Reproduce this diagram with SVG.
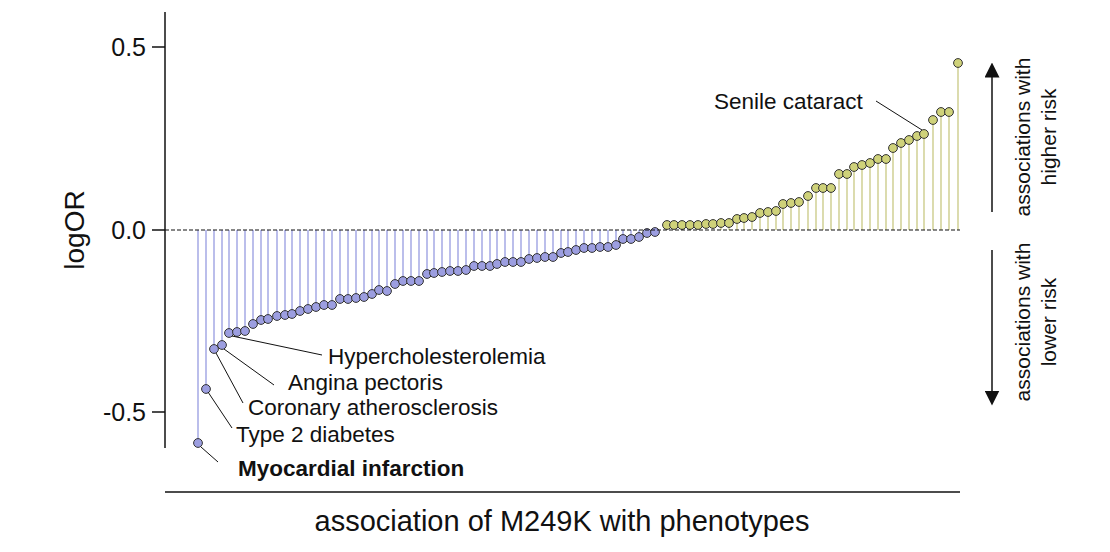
<svg xmlns="http://www.w3.org/2000/svg" width="1110" height="552" viewBox="0 0 1110 552">
<style>
text{font-family:"Liberation Sans",Arial,sans-serif;fill:#111}
.b line{stroke:#aaaee6;stroke-width:1.6}
.y line{stroke:#d3d39a;stroke-width:1.6}
.b circle{fill:#9c9ee0;stroke:#333;stroke-width:1}
.y circle{fill:#cfd27a;stroke:#333;stroke-width:1}
.ax{stroke:#111;stroke-width:1.5;fill:none}
.ld{stroke:#111;stroke-width:1;fill:none}
.lb{font-size:22.5px}
.rt{font-size:21px}
</style>
<defs><marker id="ah" markerWidth="10" markerHeight="10" refX="5" refY="5" orient="auto"><path d="M0,0L10,5L0,10z" fill="#111"/></marker></defs>
<g id="axes">
<line class="ax" x1="165" y1="12" x2="165" y2="448"/>
<line class="ax" x1="152" y1="47" x2="165" y2="47"/>
<line class="ax" x1="152" y1="230" x2="165" y2="230"/>
<line class="ax" x1="152" y1="412" x2="165" y2="412"/>
<text x="146" y="56" font-size="25" text-anchor="end">0.5</text>
<text x="146" y="239" font-size="25" text-anchor="end">0.0</text>
<text x="146" y="421" font-size="25" text-anchor="end">-0.5</text>
<text transform="translate(84,230) rotate(-90)" font-size="28" text-anchor="middle">logOR</text>
<line class="ax" x1="165" y1="492" x2="960" y2="492"/>
<text x="562" y="531" font-size="29" text-anchor="middle">association of M249K with phenotypes</text>
</g>
<g id="connectors">
<g class="b">
<line x1="198" y1="230" x2="198" y2="443"/><line x1="206" y1="230" x2="206" y2="389"/><line x1="214" y1="230" x2="214" y2="349"/><line x1="222" y1="230" x2="222" y2="345"/><line x1="229" y1="230" x2="229" y2="333"/><line x1="237" y1="230" x2="237" y2="332"/><line x1="245" y1="230" x2="245" y2="331"/><line x1="253" y1="230" x2="253" y2="324"/><line x1="261" y1="230" x2="261" y2="320"/><line x1="268" y1="230" x2="268" y2="319"/>
</g>
</g>
<g id="lollipops-neg" class="b">
<circle cx="198" cy="443" r="4.4"/><circle cx="206" cy="389" r="4.4"/><circle cx="214" cy="349" r="4.4"/><circle cx="222" cy="345" r="4.4"/><circle cx="229" cy="333" r="4.4"/><circle cx="237" cy="332" r="4.4"/><circle cx="245" cy="331" r="4.4"/><circle cx="253" cy="324" r="4.4"/><circle cx="261" cy="320" r="4.4"/><circle cx="268" cy="319" r="4.4"/>
<line x1="277" y1="230" x2="277" y2="316"/><circle cx="277" cy="316" r="4.4"/>
<line x1="285" y1="230" x2="285" y2="315"/><circle cx="285" cy="315" r="4.4"/>
<line x1="292" y1="230" x2="292" y2="314"/><circle cx="292" cy="314" r="4.4"/>
<line x1="300" y1="230" x2="300" y2="311"/><circle cx="300" cy="311" r="4.4"/>
<line x1="308" y1="230" x2="308" y2="309"/><circle cx="308" cy="309" r="4.4"/>
<line x1="316" y1="230" x2="316" y2="307"/><circle cx="316" cy="307" r="4.4"/>
<line x1="324" y1="230" x2="324" y2="305"/><circle cx="324" cy="305" r="4.4"/>
<line x1="332" y1="230" x2="332" y2="305"/><circle cx="332" cy="305" r="4.4"/>
<line x1="340" y1="230" x2="340" y2="299"/><circle cx="340" cy="299" r="4.4"/>
<line x1="348" y1="230" x2="348" y2="299"/><circle cx="348" cy="299" r="4.4"/>
<line x1="356" y1="230" x2="356" y2="298"/><circle cx="356" cy="298" r="4.4"/>
<line x1="364" y1="230" x2="364" y2="297"/><circle cx="364" cy="297" r="4.4"/>
<line x1="372" y1="230" x2="372" y2="294"/><circle cx="372" cy="294" r="4.4"/>
<line x1="379" y1="230" x2="379" y2="290"/><circle cx="379" cy="290" r="4.4"/>
<line x1="387" y1="230" x2="387" y2="291"/><circle cx="387" cy="291" r="4.4"/>
<line x1="395" y1="230" x2="395" y2="284"/><circle cx="395" cy="284" r="4.4"/>
<line x1="403" y1="230" x2="403" y2="281"/><circle cx="403" cy="281" r="4.4"/>
<line x1="411" y1="230" x2="411" y2="281"/><circle cx="411" cy="281" r="4.4"/>
<line x1="419" y1="230" x2="419" y2="281"/><circle cx="419" cy="281" r="4.4"/>
<line x1="427" y1="230" x2="427" y2="274"/><circle cx="427" cy="274" r="4.4"/>
<line x1="434" y1="230" x2="434" y2="273"/><circle cx="434" cy="273" r="4.4"/>
<line x1="442" y1="230" x2="442" y2="272"/><circle cx="442" cy="272" r="4.4"/>
<line x1="450" y1="230" x2="450" y2="271"/><circle cx="450" cy="271" r="4.4"/>
<line x1="458" y1="230" x2="458" y2="271"/><circle cx="458" cy="271" r="4.4"/>
<line x1="466" y1="230" x2="466" y2="270"/><circle cx="466" cy="270" r="4.4"/>
<line x1="474" y1="230" x2="474" y2="266"/><circle cx="474" cy="266" r="4.4"/>
<line x1="482" y1="230" x2="482" y2="266"/><circle cx="482" cy="266" r="4.4"/>
<line x1="490" y1="230" x2="490" y2="266"/><circle cx="490" cy="266" r="4.4"/>
<line x1="497" y1="230" x2="497" y2="264"/><circle cx="497" cy="264" r="4.4"/>
<line x1="505" y1="230" x2="505" y2="262"/><circle cx="505" cy="262" r="4.4"/>
<line x1="513" y1="230" x2="513" y2="262"/><circle cx="513" cy="262" r="4.4"/>
<line x1="521" y1="230" x2="521" y2="262"/><circle cx="521" cy="262" r="4.4"/>
<line x1="529" y1="230" x2="529" y2="259"/><circle cx="529" cy="259" r="4.4"/>
<line x1="537" y1="230" x2="537" y2="258"/><circle cx="537" cy="258" r="4.4"/>
<line x1="545" y1="230" x2="545" y2="257"/><circle cx="545" cy="257" r="4.4"/>
<line x1="553" y1="230" x2="553" y2="257"/><circle cx="553" cy="257" r="4.4"/>
<line x1="561" y1="230" x2="561" y2="253"/><circle cx="561" cy="253" r="4.4"/>
<line x1="568" y1="230" x2="568" y2="252"/><circle cx="568" cy="252" r="4.4"/>
<line x1="576" y1="230" x2="576" y2="250"/><circle cx="576" cy="250" r="4.4"/>
<line x1="584" y1="230" x2="584" y2="248"/><circle cx="584" cy="248" r="4.4"/>
<line x1="592" y1="230" x2="592" y2="248"/><circle cx="592" cy="248" r="4.4"/>
<line x1="600" y1="230" x2="600" y2="247"/><circle cx="600" cy="247" r="4.4"/>
<line x1="608" y1="230" x2="608" y2="247"/><circle cx="608" cy="247" r="4.4"/>
<line x1="616" y1="230" x2="616" y2="245"/><circle cx="616" cy="245" r="4.4"/>
<line x1="623" y1="230" x2="623" y2="239"/><circle cx="623" cy="239" r="4.4"/>
<line x1="631" y1="230" x2="631" y2="239"/><circle cx="631" cy="239" r="4.4"/>
<line x1="639" y1="230" x2="639" y2="237"/><circle cx="639" cy="237" r="4.4"/>
<circle cx="647" cy="233" r="4.4"/><circle cx="655" cy="232" r="4.4"/>
</g>
<g id="lollipops-pos" class="y">
<circle cx="667" cy="225" r="4.4"/><circle cx="674" cy="225" r="4.4"/><circle cx="682" cy="225" r="4.4"/><circle cx="690" cy="225" r="4.4"/><circle cx="698" cy="225" r="4.4"/><circle cx="706" cy="224" r="4.4"/><circle cx="713" cy="224" r="4.4"/>
<line x1="721" y1="230" x2="721" y2="223"/><circle cx="721" cy="223" r="4.4"/>
<line x1="729" y1="230" x2="729" y2="223"/><circle cx="729" cy="223" r="4.4"/>
<line x1="737" y1="230" x2="737" y2="219"/><circle cx="737" cy="219" r="4.4"/>
<line x1="744" y1="230" x2="744" y2="218"/><circle cx="744" cy="218" r="4.4"/>
<line x1="752" y1="230" x2="752" y2="217"/><circle cx="752" cy="217" r="4.4"/>
<line x1="760" y1="230" x2="760" y2="213"/><circle cx="760" cy="213" r="4.4"/>
<line x1="768" y1="230" x2="768" y2="212"/><circle cx="768" cy="212" r="4.4"/>
<line x1="776" y1="230" x2="776" y2="211"/><circle cx="776" cy="211" r="4.4"/>
<line x1="783" y1="230" x2="783" y2="204"/><circle cx="783" cy="204" r="4.4"/>
<line x1="791" y1="230" x2="791" y2="203"/><circle cx="791" cy="203" r="4.4"/>
<line x1="799" y1="230" x2="799" y2="202"/><circle cx="799" cy="202" r="4.4"/>
<line x1="808" y1="230" x2="808" y2="196"/><circle cx="808" cy="196" r="4.4"/>
<line x1="816" y1="230" x2="816" y2="188"/><circle cx="816" cy="188" r="4.4"/>
<line x1="823" y1="230" x2="823" y2="188"/><circle cx="823" cy="188" r="4.4"/>
<line x1="831" y1="230" x2="831" y2="188"/><circle cx="831" cy="188" r="4.4"/>
<line x1="839" y1="230" x2="839" y2="174"/><circle cx="839" cy="174" r="4.4"/>
<line x1="847" y1="230" x2="847" y2="174"/><circle cx="847" cy="174" r="4.4"/>
<line x1="854" y1="230" x2="854" y2="167"/><circle cx="854" cy="167" r="4.4"/>
<line x1="862" y1="230" x2="862" y2="165"/><circle cx="862" cy="165" r="4.4"/>
<line x1="870" y1="230" x2="870" y2="163"/><circle cx="870" cy="163" r="4.4"/>
<line x1="878" y1="230" x2="878" y2="159"/><circle cx="878" cy="159" r="4.4"/>
<line x1="886" y1="230" x2="886" y2="159"/><circle cx="886" cy="159" r="4.4"/>
<line x1="893" y1="230" x2="893" y2="148"/><circle cx="893" cy="148" r="4.4"/>
<line x1="901" y1="230" x2="901" y2="143"/><circle cx="901" cy="143" r="4.4"/>
<line x1="909" y1="230" x2="909" y2="140"/><circle cx="909" cy="140" r="4.4"/>
<line x1="917" y1="230" x2="917" y2="136"/><circle cx="917" cy="136" r="4.4"/>
<line x1="924" y1="230" x2="924" y2="134"/><circle cx="924" cy="134" r="4.4"/>
<line x1="933" y1="230" x2="933" y2="120"/><circle cx="933" cy="120" r="4.4"/>
<line x1="941" y1="230" x2="941" y2="112"/><circle cx="941" cy="112" r="4.4"/>
<line x1="949" y1="230" x2="949" y2="112"/><circle cx="949" cy="112" r="4.4"/>
<line x1="958" y1="230" x2="958" y2="63"/><circle cx="958" cy="63" r="4.4"/>
</g>
<line id="zero" x1="165" y1="230" x2="960" y2="230" stroke="#111" stroke-width="1.2" stroke-dasharray="4,2"/>
<g id="labels">
<line class="ld" x1="876" y1="101" x2="922" y2="130"/>
<text class="lb" x="714" y="109">Senile cataract</text>
<line class="ld" x1="232" y1="336" x2="322" y2="355"/>
<text class="lb" x="328" y="364">Hypercholesterolemia</text>
<line class="ld" x1="224" y1="349" x2="274" y2="385"/>
<text class="lb" x="288" y="390">Angina pectoris</text>
<line class="ld" x1="216" y1="353" x2="243" y2="403"/>
<text class="lb" x="248" y="415">Coronary atherosclerosis</text>
<line class="ld" x1="208" y1="392" x2="232" y2="428"/>
<text class="lb" x="236" y="442">Type 2 diabetes</text>
<line class="ld" x1="201" y1="447" x2="218" y2="462"/>
<text class="lb" x="238" y="476" font-weight="bold">Myocardial infarction</text>
</g>
<g id="risk">
<line class="ax" x1="992" y1="212" x2="992" y2="70" marker-end="url(#ah)"/>
<line class="ax" x1="992" y1="250" x2="992" y2="398" marker-end="url(#ah)"/>
<text class="rt" transform="translate(1030,137) rotate(-90)" text-anchor="middle">associations with</text>
<text class="rt" transform="translate(1056,137) rotate(-90)" text-anchor="middle">higher risk</text>
<text class="rt" transform="translate(1030,322) rotate(-90)" text-anchor="middle">associations with</text>
<text class="rt" transform="translate(1056,322) rotate(-90)" text-anchor="middle">lower risk</text>
</g>
</svg>
